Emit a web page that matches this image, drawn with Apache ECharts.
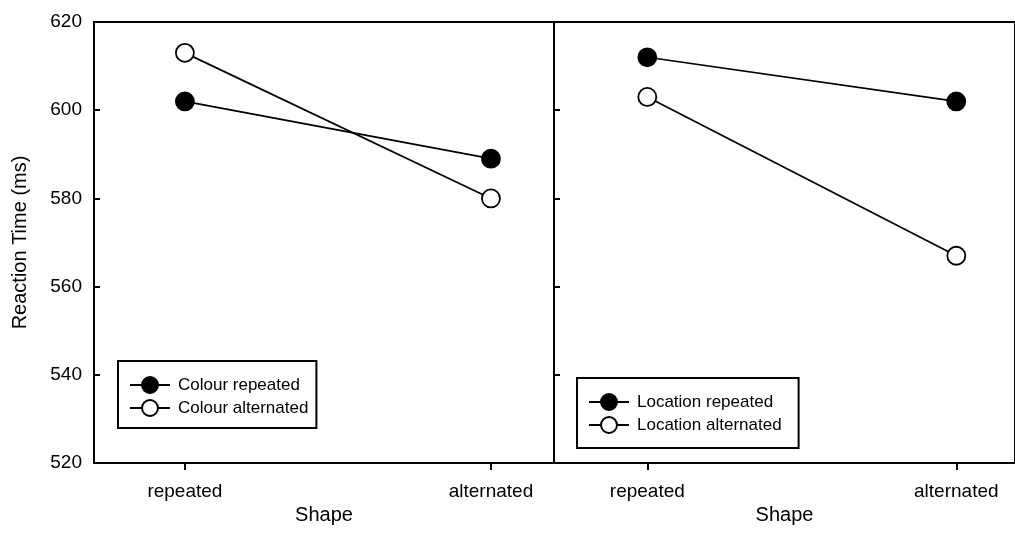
<!DOCTYPE html>
<html><head><meta charset="utf-8">
<script src="https://cdn.jsdelivr.net/npm/echarts@6/dist/echarts.min.js"></script>
<style>html,body{margin:0;padding:0;background:#fff}#c{width:1015px;height:545px}</style>
</head><body><div id="c"></div>
<script>
var categories = ['repeated', 'alternated'];
var yTicks = [520, 540, 560, 580, 600, 620];
var colourRepeated = [602, 589];
var colourAlternated = [613, 580];
var locationRepeated = [612, 602];
var locationAlternated = [603, 567];

var FONT = 'Liberation Sans, Arial, sans-serif';
function pts(vals){ return vals.map(function(v,i){ return [i, v]; }); }

function xAxis(idx, min, max){
  return {
    type: 'value', gridIndex: idx, min: min, max: max,
    name: 'Shape', nameLocation: 'middle', nameGap: 41,
    nameTextStyle: {fontFamily: FONT, fontSize: 20, color: '#000'},
    axisLine: {show: true, onZero: false, lineStyle: {color: '#000', width: 2}},
    axisTick: {show: true, inside: false, length: 7, lineStyle: {color: '#000', width: 2}, customValues: [0, 1]},
    axisLabel: {show: true, margin: 19, fontFamily: FONT, fontSize: 19, color: '#000', customValues: [0, 1],
      formatter: function(v){ return categories[Math.round(v)]; }},
    splitLine: {show: false}
  };
}
function yAxis(idx, labels){
  return {
    type: 'value', gridIndex: idx, min: yTicks[0], max: yTicks[yTicks.length - 1], interval: 20,
    name: labels ? 'Reaction Time (ms)' : '', nameLocation: 'middle', nameGap: 64,
    nameTextStyle: {fontFamily: FONT, fontSize: 20, color: '#000'},
    axisLine: {show: true, onZero: false, lineStyle: {color: '#000', width: 2}},
    axisTick: {show: true, inside: true, length: 6, lineStyle: {color: '#000', width: 2}},
    axisLabel: {show: labels, margin: 12, fontFamily: FONT, fontSize: 19, color: '#000'},
    splitLine: {show: false}
  };
}
function series(name, vals, idx, filled){
  return {
    name: name, type: 'line', xAxisIndex: idx, yAxisIndex: idx,
    data: pts(vals), symbol: 'circle', symbolSize: 18,
    lineStyle: {color: '#000', width: 1.7},
    itemStyle: {color: filled ? '#000' : '#fff', borderColor: '#000', borderWidth: 1.8},
    emphasis: {disabled: true}, z: filled ? 3 : 2
  };
}

var chart = echarts.init(document.getElementById('c'), null, {renderer: 'canvas'});
chart.setOption({
  animation: false,
  backgroundColor: '#fff',
  grid: [
    {left: 94, top: 22, width: 460, height: 441, show: true, borderColor: '#000', borderWidth: 2, backgroundColor: 'transparent'},
    {left: 554, top: 22, width: 470, height: 441, show: true, borderColor: '#000', borderWidth: 2, backgroundColor: 'transparent'}
  ],
  xAxis: [xAxis(0, -0.297, 1.206), xAxis(1, -0.302, 1.19)],
  yAxis: [yAxis(0, true), yAxis(1, false)],
  legend: [
    {data: ['Colour repeated', 'Colour alternated'], left: 118, top: 361, orient: 'vertical',
     itemWidth: 40, itemHeight: 20, itemGap: 5, padding: [15, 8, 11, 11],
     borderColor: '#000', borderWidth: 2, selectedMode: false,
     textStyle: {fontFamily: FONT, fontSize: 17, color: '#000', padding: [0, 0, 0, 3]}},
    {data: ['Location repeated', 'Location alternated'], left: 577, top: 378, orient: 'vertical',
     itemWidth: 40, itemHeight: 20, itemGap: 5, padding: [15, 17, 14, 11],
     borderColor: '#000', borderWidth: 2, selectedMode: false,
     textStyle: {fontFamily: FONT, fontSize: 17, color: '#000', padding: [0, 0, 0, 3]}}
  ],
  series: [
    series('Colour repeated', colourRepeated, 0, true),
    series('Colour alternated', colourAlternated, 0, false),
    series('Location repeated', locationRepeated, 1, true),
    series('Location alternated', locationAlternated, 1, false)
  ]
});
</script></body></html>
